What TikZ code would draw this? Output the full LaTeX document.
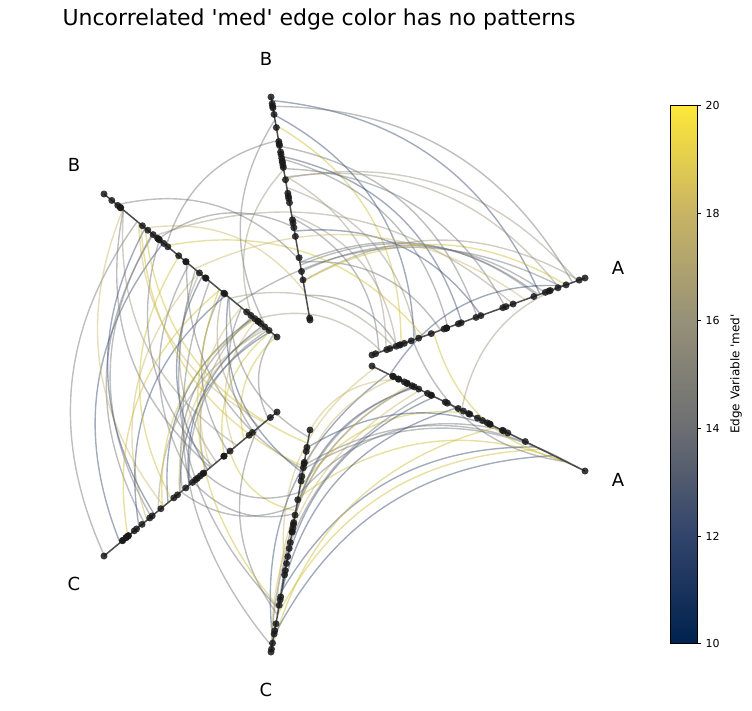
\documentclass[tikz,border=0pt]{standalone}
\usepackage{fontspec}
\setmainfont{DejaVu Sans}
\usetikzlibrary{calc}
\definecolor{cmA}{RGB}{0,34,78}
\definecolor{cmB}{RGB}{49,68,107}
\definecolor{cmC}{RGB}{108,110,114}
\definecolor{cmD}{RGB}{150,145,120}
\definecolor{cmE}{RGB}{200,180,100}
\definecolor{cmF}{RGB}{254,232,56}
\colorlet{cm0}{cmB}\colorlet{cm1}{cmC}\colorlet{cm2}{cmC}\colorlet{cm3}{cmD}\colorlet{cm4}{cmE}\colorlet{cm5}{cmF!80!black}
\tikzset{edge/.style={line width=1.4pt,opacity=0.45},
  dot/.style={circle,fill=black!90,inner sep=0pt,minimum size=7pt,opacity=0.85},
  axlab/.style={font=\fontsize{18}{20}\selectfont},
  tick/.style={font=\fontsize{11}{13}\selectfont,anchor=west}}
\begin{document}
\begin{tikzpicture}[x=1pt,y=-1pt]
\useasboundingbox (0,0) rectangle (752,710);
\coordinate (Bt0) at (310,320); \coordinate (Bt1) at (271,97);
\coordinate (Bl0) at (277,337); \coordinate (Bl1) at (104,194);
\coordinate (Au0) at (372,355); \coordinate (Au1) at (585,278);
\coordinate (Al0) at (372,366); \coordinate (Al1) at (585,471);
\coordinate (Cb0) at (310,430); \coordinate (Cb1) at (271,652);
\coordinate (Cl0) at (277,412); \coordinate (Cl1) at (104,556);
\pgfmathsetseed{7}
\foreach \a/\b/\n/\bd in {Bt/Au/22/left, Bl/Cl/34/right, Cb/Al/22/left, Bl/Au/6/left, Bt/Bl/6/right, Cl/Cb/5/right, Au/Al/4/right, Bl/Cb/8/right}{
  \foreach \i in {1,...,\n}{
    \pgfmathsetmacro\ta{rnd}\pgfmathsetmacro\tb{rnd}
    \pgfmathrandominteger{\k}{0}{5}
    \draw[edge,cm\k] ($(\a0)!\ta!(\a1)$) to[bend \bd=30] ($(\b0)!\tb!(\b1)$);
  }}
\foreach \a in {Bt,Bl,Au,Al,Cb,Cl}{
  \draw[black!70,line width=1.5pt] (\a0) -- (\a1);
  \node[dot] (\a s) at (\a0) {}; \node[dot] (\a e) at (\a1) {};
  \foreach \i in {1,...,28}{\pgfmathsetmacro\t{rnd}
    \node[dot] at ($(\a0)!\t!(\a1)$) {};}}
\node[axlab] (lb1) at (266,59) {B};
\node[axlab] (lb2) at (74,165) {B};
\node[axlab] (la1) at (618,268) {A};
\node[axlab] (la2) at (618,480) {A};
\node[axlab] (lc1) at (74,584) {C};
\node[axlab] (lc2) at (266,690) {C};
\node[font=\fontsize{22}{24}\selectfont] (title) at (319,19) {Uncorrelated \textquotesingle med\textquotesingle{} edge color has no patterns};
% colorbar
\shade[bottom color=cmA,top color=cmB] (670,643) rectangle (697,536);
\shade[bottom color=cmB,top color=cmC] (670,536) rectangle (697,428);
\shade[bottom color=cmC,top color=cmD] (670,428) rectangle (697,320);
\shade[bottom color=cmD,top color=cmE] (670,320) rectangle (697,213);
\shade[bottom color=cmE,top color=cmF] (670,213) rectangle (697,105);
\draw[line width=0.6pt] (670,105) rectangle (697,643);
\foreach \v/\y in {10/643,12/536,14/428,16/320,18/213,20/105}{
  \draw (697,\y) -- (701,\y);
  \node[tick] at (702,\y) {\v};}
\node[rotate=90,font=\fontsize{12}{14}\selectfont] (cbl) at (736,374) {Edge Variable \textquotesingle med\textquotesingle};
\end{tikzpicture}
\end{document}
